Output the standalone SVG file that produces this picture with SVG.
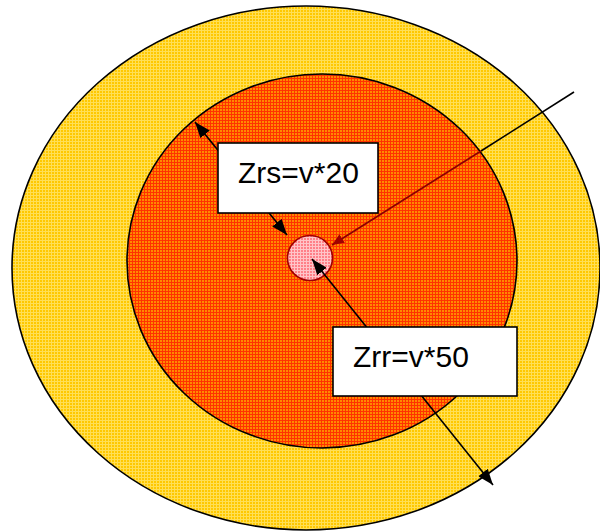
<svg xmlns="http://www.w3.org/2000/svg" width="600" height="532" viewBox="0 0 600 532">
<style>
.ring{stroke:#000;stroke-width:1.6}
.box{fill:#fff;stroke:#000;stroke-width:1.6}
.lbl{font-family:"Liberation Sans",Arial,sans-serif;font-size:30px;fill:#000}
.con{stroke:#000;stroke-width:1.6;fill:none}
</style>
<defs>
<pattern id="pY" width="3" height="3" patternUnits="userSpaceOnUse">
<rect width="3" height="3" fill="#FFC800"/>
<path d="M0 0.5H3M0.5 0V3" stroke="#FFDF55" stroke-width="1"/>
</pattern>
<pattern id="pR" width="3" height="3" patternUnits="userSpaceOnUse">
<rect width="3" height="3" fill="#FF8A00"/>
<path d="M0 0.5H3M0.5 0V3" stroke="#FF3300" stroke-width="1"/>
</pattern>
<pattern id="pP" width="3" height="3" patternUnits="userSpaceOnUse">
<rect width="3" height="3" fill="#FF8088"/>
<path d="M0 0.5H3M0.5 0V3" stroke="#FFC4C8" stroke-width="1"/>
</pattern>
<marker id="ah" viewBox="0 0 16 12" refX="16" refY="6" markerWidth="16" markerHeight="12" markerUnits="userSpaceOnUse" orient="auto-start-reverse">
<path d="M0 0L16 6L0 12z" fill="#000"/>
</marker>
<marker id="ahr" viewBox="0 0 12 10" refX="12" refY="5" markerWidth="12" markerHeight="10" markerUnits="userSpaceOnUse" orient="auto">
<path d="M0 0L12 5L0 10z" fill="#A00000"/>
</marker>
</defs>
<g id="outer"><ellipse class="ring" cx="306" cy="268" rx="294" ry="262" fill="url(#pY)"/></g>
<g id="inner"><ellipse class="ring" cx="322" cy="261" rx="195" ry="187" fill="url(#pR)"/></g>
<g id="core"><circle cx="310" cy="258" r="22.5" fill="url(#pP)" stroke="#A00000" stroke-width="1.6"/></g>
<g id="connectors">
<line class="con" x1="195" y1="122" x2="287" y2="235" marker-start="url(#ah)" marker-end="url(#ah)"/>
<line class="con" x1="574" y1="92" x2="481" y2="151"/>
<line x1="481" y1="151" x2="332" y2="245" stroke="#8A0000" stroke-width="1.6" marker-end="url(#ahr)"/>
<line class="con" x1="312" y1="259" x2="493" y2="485" marker-start="url(#ah)" marker-end="url(#ah)"/>
</g>
<g id="label-zrs"><rect class="box" x="218" y="143" width="160" height="70"/><text class="lbl" x="238" y="183">Zrs=v*20</text></g>
<g id="label-zrr"><rect class="box" x="333" y="327" width="184" height="69"/><text class="lbl" x="353" y="367">Zrr=v*50</text></g>
</svg>
